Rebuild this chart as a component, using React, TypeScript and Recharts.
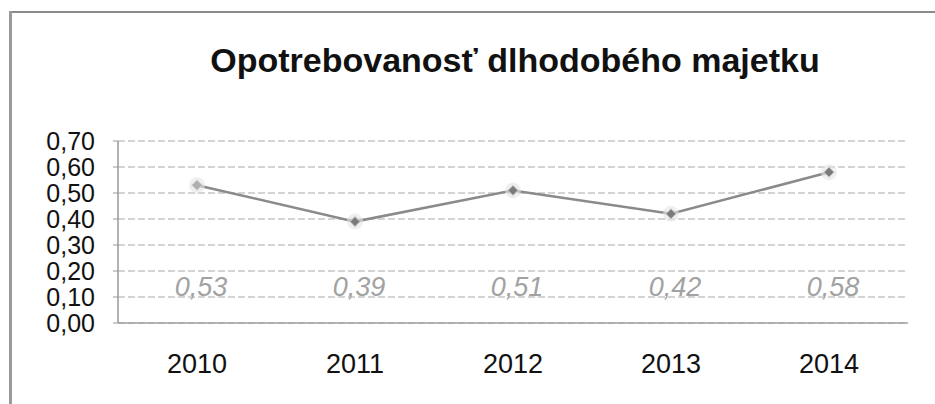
import { LineChart, Line, XAxis, YAxis, CartesianGrid, LabelList } from "recharts"

const years = ["2010", "2011", "2012", "2013", "2014"]
const wear = [0.53, 0.39, 0.51, 0.42, 0.58]
const yTicks = [0, 0.1, 0.2, 0.3, 0.4, 0.5, 0.6, 0.7]

const chartData = years.map((year, i) => ({ year, wear: wear[i] }))

const MARGIN = { top: 141, right: 27, left: 56, bottom: 31 }
const PLOT_BOTTOM = 323

function fmt(v: number) {
  return v.toFixed(2).replace(".", ",")
}

function Diamond(props: { cx?: number; cy?: number; index?: number }) {
  const { cx, cy, index } = props
  if (cx == null || cy == null) return null
  const s = 5
  return (
    <g key={`dot-${index}`}>
      <circle cx={cx} cy={cy} r={8} fill="#e4e4e4" opacity={0.6} />
      <polygon
        points={`${cx},${cy - s} ${cx + s},${cy} ${cx},${cy + s} ${cx - s},${cy}`}
        fill={index === 0 ? "#b0b0b0" : "#7a7a7a"}
        stroke="#c8c8c8"
        strokeWidth={1}
      />
    </g>
  )
}

function BottomLabel(props: { x?: number; value?: number }) {
  const { x, value } = props
  if (x == null || value == null) return null
  return (
    <text
      x={x + 4}
      y={PLOT_BOTTOM - 27}
      textAnchor="middle"
      fontSize={27}
      fontStyle="italic"
      fill="#a2a2a2"
      fontFamily="'Liberation Sans', Arial, sans-serif"
    >
      {fmt(value)}
    </text>
  )
}

export default function App() {
  return (
    <div
      style={{
        position: "absolute",
        left: 0,
        top: 0,
        width: 935,
        height: 404,
        background: "#fff",
        fontFamily: "'Liberation Sans', Arial, sans-serif",
      }}
    >
      {/* scanned frame edges */}
      <div style={{ position: "absolute", left: 9, top: 11, width: 926, height: 2, background: "#8a8a8a" }} />
      <div style={{ position: "absolute", left: 9, top: 11, width: 3, height: 393, background: "#9a9a9a" }} />

      <div
        style={{
          position: "absolute",
          left: 0,
          width: 1030,
          top: 39,
          textAlign: "center",
          fontSize: 34,
          fontWeight: "bold",
          color: "#111",
          lineHeight: "42px",
        }}
      >
        Opotrebovanosť dlhodobého majetku
      </div>

      <div style={{ position: "absolute", left: 0, top: 0 }}>
        <LineChart width={935} height={404} data={chartData} margin={MARGIN}>
          <CartesianGrid
            vertical={false}
            stroke="#a8a8a8"
            strokeDasharray="7 3"
          />
          <XAxis
            dataKey="year"
            scale="band"
            axisLine={{ stroke: "#a0a0a0", strokeWidth: 1.5 }}
            tickLine={false}
            tickSize={0}
            tickMargin={31}
            height={50}
            tick={{ fontSize: 27, fill: "#111" }}
          />
          <YAxis
            domain={[0, 0.7]}
            ticks={yTicks}
            tickFormatter={fmt}
            width={62}
            axisLine={{ stroke: "#999", strokeWidth: 1.5 }}
            tickLine={{ stroke: "#999" }}
            tickSize={5}
            tickMargin={18}
            interval={0}
            tick={{ fontSize: 25, fill: "#111" }}
          />
          <YAxis
            yAxisId="frame"
            orientation="right"
            domain={[0, 0.7]}
            width={0}
            tick={false}
            tickLine={false}
            axisLine={{ stroke: "#cfcfcf", strokeWidth: 1.5 }}
          />
          <Line
            dataKey="wear"
            stroke="#8a8a8a"
            strokeWidth={2.5}
            dot={<Diamond />}
            activeDot={false}
            isAnimationActive={false}
          >
            <LabelList dataKey="wear" content={<BottomLabel />} />
          </Line>
        </LineChart>
      </div>
    </div>
  )
}
